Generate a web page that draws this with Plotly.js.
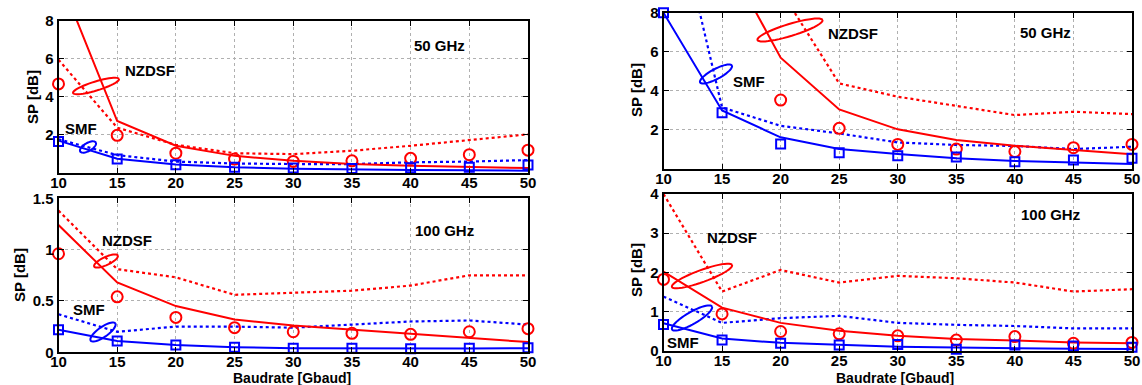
<!DOCTYPE html>
<html><head><meta charset="utf-8">
<script src="https://cdn.plot.ly/plotly-3.0.1.min.js"></script>
<style>html,body{margin:0;padding:0;background:#fff;}#c{width:1142px;height:385px;}</style>
</head><body><div id="c"></div>
<script>
const baud = [10,15,20,25,30,35,40,45,50];

// top-left: 50 GHz
const a_nzSolid = [10.4, 2.73, 1.43, 0.9, 0.64, 0.47, 0.38, 0.33, 0.26];
const a_nzDot   = [5.95, 2.38, 1.48, 1.04, 0.99, 1.17, 1.43, 1.74, 2.03];
const a_nzCirc  = [4.68, 1.98, 1.04, 0.73, 0.61, 0.64, 0.77, 0.96, 1.2];
const a_smSolid = [1.7, 0.75, 0.45, 0.3, 0.22, 0.18, 0.16, 0.14, 0.12];
const a_smDot   = [1.77, 0.94, 0.6, 0.5, 0.47, 0.47, 0.56, 0.6, 0.68];
const a_smSq    = [1.65, 0.73, 0.43, 0.3, 0.26, 0.24, 0.27, 0.3, 0.42];

// bottom-left: 100 GHz
const b_nzSolid = [1.24, 0.68, 0.45, 0.32, 0.26, 0.22, 0.18, 0.14, 0.10];
const b_nzDot   = [1.38, 0.81, 0.73, 0.56, 0.58, 0.6, 0.65, 0.75, 0.75];
const b_nzCirc  = [0.96, 0.54, 0.34, 0.24, 0.2, 0.185, 0.175, 0.2, 0.23];
const b_smSolid = [0.22, 0.11, 0.07, 0.05, 0.04, 0.037, 0.035, 0.037, 0.04];
const b_smDot   = [0.37, 0.2, 0.25, 0.25, 0.24, 0.27, 0.3, 0.31, 0.27];
const b_smSq    = [0.22, 0.11, 0.07, 0.05, 0.04, 0.04, 0.035, 0.04, 0.045];

// top-right: 50 GHz
const c_nzSolid = [25, 11.2, 5.7, 3.05, 2.03, 1.48, 1.19, 0.97, 0.75];
const c_nzDot   = [40, 20, 9.14, 4.38, 3.7, 3.24, 2.76, 2.93, 2.81];
const c_nzCirc  = [null, null, 3.53, 2.08, 1.26, 1.02, 0.89, 1.09, 1.26];
const c_smSolid = [8.0, 3.0, 1.62, 1.02, 0.77, 0.55, 0.41, 0.32, 0.26];
const c_smDot   = [15.9, 3.15, 2.21, 1.82, 1.36, 1.23, 1.18, 1.02, 1.14];
const c_smSq    = [8.0, 2.88, 1.28, 0.83, 0.68, 0.61, 0.37, 0.46, 0.55];

// bottom-right: 100 GHz
const d_nzSolid = [2.02, 1.1, 0.71, 0.51, 0.38, 0.3, 0.26, 0.21, 0.19];
const d_nzDot   = [4.0, 1.51, 2.06, 1.74, 1.91, 1.85, 1.74, 1.51, 1.57];
const d_nzCirc  = [1.82, 0.94, 0.49, 0.43, 0.38, 0.27, 0.36, 0.19, 0.21];
const d_smSolid = [0.7, 0.31, 0.2, 0.145, 0.1, 0.08, 0.06, 0.05, 0.045];
const d_smDot   = [1.38, 0.71, 0.83, 0.89, 0.71, 0.66, 0.63, 0.57, 0.57];
const d_smSq    = [0.67, 0.27, 0.19, 0.145, 0.16, 0.04, 0.145, 0.12, 0.085];

const xTicks = [10,15,20,25,30,35,40,45,50];
const W = 1142, H = 385;
const RED = '#ff0000', BLUE = '#0000ff';
const FONT = 'Liberation Sans, Arial, sans-serif';

function panelTraces(n, nzS, nzD, nzC, smS, smD, smQ) {
  const xa = 'x' + (n === 1 ? '' : n), ya = 'y' + (n === 1 ? '' : n);
  const base = {x: baud, xaxis: xa, yaxis: ya, showlegend: false, hoverinfo: 'skip'};
  return [
    Object.assign({}, base, {y: nzD, mode: 'lines', line: {color: RED, width: 2.2, dash: '3px,3px'}}),
    Object.assign({}, base, {y: smD, mode: 'lines', line: {color: BLUE, width: 2.2, dash: '3px,3px'}}),
    Object.assign({}, base, {y: nzS, mode: 'lines', line: {color: RED, width: 2}}),
    Object.assign({}, base, {y: smS, mode: 'lines', line: {color: BLUE, width: 2}}),
    Object.assign({}, base, {y: nzC, mode: 'markers', cliponaxis: false,
      marker: {symbol: 'circle-open', size: 11, color: RED, line: {width: 2, color: RED}}}),
    Object.assign({}, base, {y: smQ, mode: 'markers', cliponaxis: false,
      marker: {symbol: 'square-open', size: 9, color: BLUE, line: {width: 2, color: BLUE}}})
  ];
}

const data = [].concat(
  panelTraces(1, a_nzSolid, a_nzDot, a_nzCirc, a_smSolid, a_smDot, a_smSq),
  panelTraces(2, b_nzSolid, b_nzDot, b_nzCirc, b_smSolid, b_smDot, b_smSq),
  panelTraces(3, c_nzSolid, c_nzDot, c_nzCirc, c_smSolid, c_smDot, c_smSq),
  panelTraces(4, d_nzSolid, d_nzDot, d_nzCirc, d_smSolid, d_smDot, d_smSq)
);

const tickFont = {family: FONT, size: 15, color: '#000', weight: 'bold'};
function xAxis(l, r, anchor) {
  return {domain: [l / W, r / W], anchor: anchor, range: [10, 50], tickvals: xTicks,
    ticks: 'inside', ticklen: 5, tickwidth: 1, tickcolor: '#000', showline: true, linecolor: '#000',
    linewidth: 2, mirror: 'ticks', showgrid: true, gridcolor: '#b0b0b0', griddash: 'dot', gridwidth: 1,
    zeroline: false, tickfont: tickFont, automargin: false, fixedrange: true, ticklabelstandoff: -5};
}
function yAxis(top, bot, anchor, range, tv, tt) {
  return {domain: [1 - bot / H, 1 - top / H], anchor: anchor, range: range, tickvals: tv, ticktext: tt,
    ticks: 'inside', ticklen: 5, tickwidth: 1, tickcolor: '#000', showline: true, linecolor: '#000',
    linewidth: 2, mirror: 'ticks', showgrid: true, gridcolor: '#b0b0b0', griddash: 'dot', gridwidth: 1,
    zeroline: false, tickfont: tickFont, automargin: false, fixedrange: true};
}

function px(x) { return x / W; }
function py(y) { return 1 - y / H; }
function txt(x, y, s, extra) {
  return Object.assign({xref: 'paper', yref: 'paper', x: px(x), y: py(y), text: s, showarrow: false,
    xanchor: 'center', yanchor: 'middle', font: {family: FONT, size: 15, color: '#000', weight: 'bold'}}, extra || {});
}
function ellipse(cx, cy, rx, ry, angDeg, color) {
  const a = angDeg * Math.PI / 180;
  let d = '';
  for (let i = 0; i <= 48; i++) {
    const t = i / 48 * 2 * Math.PI;
    const ex = rx * Math.cos(t), ey = ry * Math.sin(t);
    const X = cx + ex * Math.cos(a) - ey * Math.sin(a);
    const Y = cy + ex * Math.sin(a) + ey * Math.cos(a);
    d += (i === 0 ? 'M' : 'L') + px(X).toFixed(5) + ',' + py(Y).toFixed(5);
  }
  return {type: 'path', xref: 'paper', yref: 'paper', path: d, line: {color: color, width: 2}};
}

const titleFont = {family: FONT, size: 14, color: '#000', weight: 'bold'};
const layout = {
  width: W, height: H, margin: {l: 0, r: 0, t: 0, b: 0},
  paper_bgcolor: '#fff', plot_bgcolor: '#fff', showlegend: false,
  xaxis:  xAxis(58.5, 528, 'y'),
  yaxis:  yAxis(20.7, 173, 'x', [0, 8], [2, 4, 6, 8], ['2', '4', '6', '8']),
  xaxis2: xAxis(58.5, 528, 'y2'),
  yaxis2: yAxis(198.3, 352.3, 'x2', [0, 1.5], [0, 0.5, 1, 1.5], ['0', '0.5', '1', '1.5']),
  xaxis3: xAxis(663.5, 1132, 'y3'),
  yaxis3: yAxis(12.7, 169, 'x3', [0, 8], [2, 4, 6, 8], ['2', '4', '6', '8']),
  xaxis4: xAxis(663.5, 1132, 'y4'),
  yaxis4: yAxis(194, 350.7, 'x4', [0, 4], [0, 1, 2, 3, 4], ['0', '1', '2', '3', '4']),
  annotations: [
    txt(150, 70, 'NZDSF'), txt(81, 128, 'SMF'), txt(440, 45, '50 GHz'),
    txt(127, 240, 'NZDSF'), txt(89, 309, 'SMF'), txt(444, 230, '100 GHz'),
    txt(853, 33, 'NZDSF'), txt(749, 82, 'SMF'), txt(1045, 32, '50 GHz'),
    txt(732, 237, 'NZDSF'), txt(683, 342, 'SMF'), txt(1050, 214, '100 GHz'),
    txt(33, 97, 'SP [dB]', {textangle: -90}),
    txt(19, 275, 'SP [dB]', {textangle: -90}),
    txt(637, 90, 'SP [dB]', {textangle: -90}),
    txt(636, 270, 'SP [dB]', {textangle: -90}),
    txt(292, 377.5, 'Baudrate [Gbaud]', {font: titleFont}),
    txt(895, 377.5, 'Baudrate [Gbaud]', {font: titleFont})
  ],
  shapes: [
    ellipse(96, 86, 24, 4.5, -17, RED), ellipse(88, 147, 9, 4, -30, BLUE),
    ellipse(106, 261, 13, 4, -25, RED), ellipse(103, 332, 15, 5, -35, BLUE),
    ellipse(790, 30, 34, 6, -17, RED), ellipse(716, 74, 18, 5, -28, BLUE),
    ellipse(702, 276, 32, 6, -20, RED), ellipse(692, 318, 23, 6, -30, BLUE)
  ]
};

Plotly.newPlot('c', data, layout, {displayModeBar: false, staticPlot: true});
</script>
</body></html>
